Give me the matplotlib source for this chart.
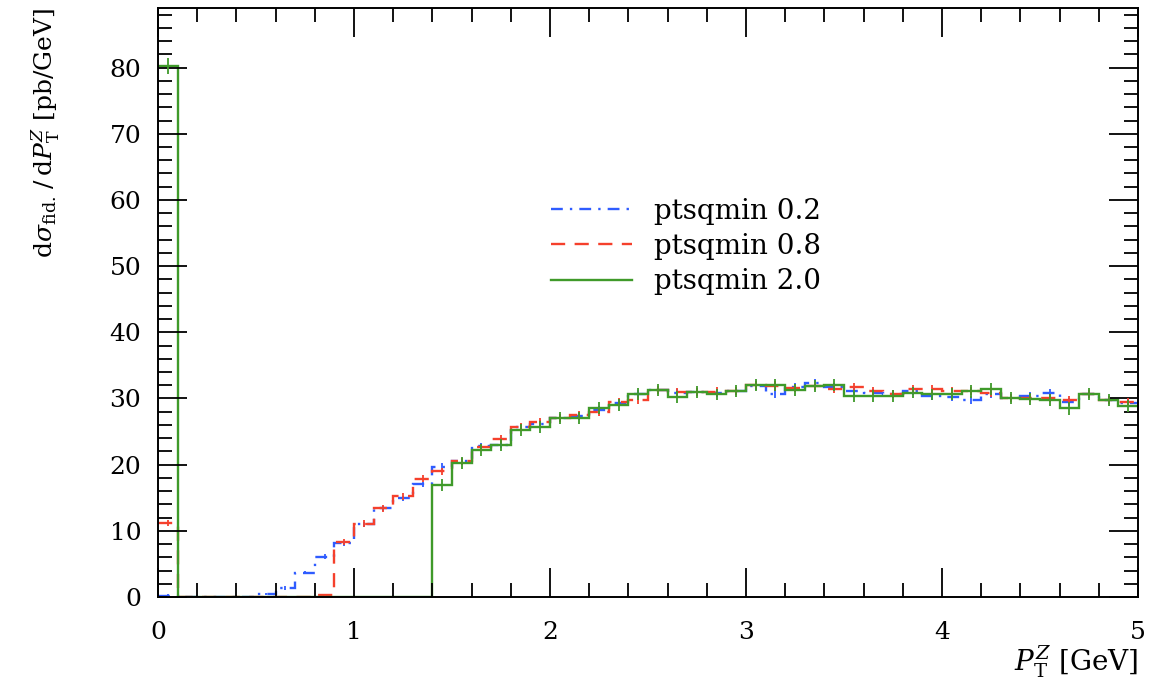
import numpy as np
import matplotlib
matplotlib.use("Agg")
import matplotlib.pyplot as plt

# bin edges in P_T^Z [GeV]
edges = np.linspace(0, 5, 51)

# ptsqmin 0.2
blue_vals = [0.2, 0, 0, 0, 0, 0.45, 1.4, 3.7, 6.1, 8.1,
             11.0, 13.4, 14.9, 17.0, 19.7, 20.5, 22.8, 23.0, 25.7, 26.2,
             27.0, 27.3, 28.3, 29.3, 30.7, 31.3, 30.9, 31.0, 30.8, 31.1,
             31.9, 30.7, 31.7, 32.3, 31.7, 31.1, 30.8, 30.7, 31.1, 30.3,
             30.2, 29.8, 30.6, 30.1, 30.4, 30.9, 29.5, 30.7, 29.7, 29.3]
blue_err = [0.2, 0, 0, 0, 0, 0.2, 0.3, 0.3, 0.4, 0.4,
            0.4, 0.4, 0.4, 0.4, 0.5, 0.5, 0.5, 0.5, 0.5, 0.5,
            0.5, 0.5, 0.5, 0.5, 0.6, 0.6, 0.6, 0.6, 0.6, 0.6,
            0.6, 0.6, 0.6, 0.6, 0.6, 0.6, 0.6, 0.6, 0.6, 0.6,
            0.6, 0.6, 0.6, 0.6, 0.6, 0.6, 0.6, 0.6, 0.6, 0.6]

# ptsqmin 0.8
red_vals = [11.2, 0, 0, 0, 0, 0, 0, 0, 0.3, 8.3,
            11.1, 13.4, 15.2, 17.9, 19.0, 20.5, 22.6, 23.9, 25.7, 26.4,
            27.0, 27.5, 28.0, 29.5, 29.8, 31.3, 31.0, 31.0, 31.0, 31.1,
            32.0, 31.9, 31.6, 31.9, 31.4, 31.7, 31.1, 30.7, 31.4, 31.4,
            31.1, 31.1, 30.9, 30.1, 30.1, 30.1, 29.8, 30.7, 29.7, 29.5]
red_err = [0.5, 0, 0, 0, 0, 0, 0, 0, 0.2, 0.4,
           0.5, 0.5, 0.5, 0.5, 0.5, 0.5, 0.5, 0.6, 0.6, 0.6,
           0.6, 0.6, 0.6, 0.6, 0.6, 0.6, 0.6, 0.6, 0.7, 0.6,
           0.6, 0.7, 0.6, 0.6, 0.6, 0.6, 0.6, 0.6, 0.6, 0.7,
           0.6, 0.6, 0.7, 0.6, 0.6, 0.6, 0.6, 0.6, 0.6, 0.6]

# ptsqmin 2.0
green_vals = [80.3, 0, 0, 0, 0, 0, 0, 0, 0, 0,
              0, 0, 0, 0, 16.9, 20.2, 22.2, 22.9, 25.3, 25.7,
              27.0, 27.0, 28.5, 29.0, 30.7, 31.3, 30.2, 31.0, 30.6, 31.1,
              32.0, 32.1, 31.3, 31.9, 32.0, 30.4, 30.4, 30.4, 30.9, 30.6,
              30.7, 31.1, 31.4, 30.1, 29.9, 29.8, 28.5, 30.7, 29.7, 28.9]
green_err = [1.2, 0, 0, 0, 0, 0, 0, 0, 0, 0,
             0, 0, 0, 0, 0.9, 0.9, 0.9, 0.9, 0.9, 0.9,
             0.9, 0.9, 0.9, 0.9, 0.9, 0.9, 0.9, 0.9, 0.9, 0.9,
             0.9, 0.9, 0.9, 0.9, 0.9, 0.9, 0.9, 0.9, 0.9, 0.9,
             0.9, 1.0, 0.9, 0.9, 0.9, 0.9, 1.0, 0.9, 0.9, 0.9]

labels = ["ptsqmin 0.2", "ptsqmin 0.8", "ptsqmin 2.0"]
colors = ["#2f5cff", "#f5402c", "#3f9a2a"]
styles = [(0, (5, 3, 1, 3)), (0, (6, 4)), "-"]

plt.rcParams["font.family"] = "DejaVu Serif"
plt.rcParams["mathtext.fontset"] = "dejavuserif"

fig = plt.figure(figsize=(11.49, 6.92), dpi=100)
ax = fig.add_axes([0.1375, 0.1373, 0.8529, 0.8511])

centers = 0.5 * (edges[:-1] + edges[1:])
for vals, errs, lab, col, ls in zip([blue_vals, red_vals, green_vals],
                                    [blue_err, red_err, green_err],
                                    labels, colors, styles):
    v = np.array(vals)
    e = np.array(errs)
    ax.stairs(v, edges, baseline=None, color=col, linestyle=ls, lw=1.7, label=lab)
    m = v > 0
    ax.errorbar(centers[m], v[m], yerr=e[m], fmt="none", ecolor=col, elinewidth=1.3, capsize=0)

ax.set_xlim(0, 5)
ax.set_ylim(0, 89)
ax.set_xticks([0, 1, 2, 3, 4, 5])
ax.set_xticks(np.arange(0, 5.01, 0.2), minor=True)
ax.set_yticks(np.arange(0, 81, 10))
ax.set_yticks(np.arange(0, 89, 2), minor=True)
ax.tick_params(which="both", direction="in", top=True, right=True, width=1.3, labelsize=18)
ax.tick_params(which="major", length=21)
ax.tick_params(which="minor", length=10)
ax.tick_params(axis="x", pad=17)
ax.tick_params(axis="y", pad=12)
for s in ax.spines.values():
    s.set_linewidth(1.4)

ax.set_xlabel(r"$P_{\mathrm{T}}^{Z}$ [GeV]", fontsize=20, loc="right", labelpad=0)
ax.set_ylabel(r"$\mathrm{d}\sigma_{\mathrm{fid.}}\,/\,\mathrm{d}P_{\mathrm{T}}^{Z}$ [pb/GeV]",
              fontsize=18, loc="top")
ax.yaxis.set_label_coords(-0.098, 1.0)

ax.legend(loc="upper left", bbox_to_anchor=(0.39, 0.697), frameon=False, fontsize=20,
          handlelength=2.9, handletextpad=0.8, labelspacing=0.3, borderaxespad=0)

fig.savefig("out.png", dpi=100)
